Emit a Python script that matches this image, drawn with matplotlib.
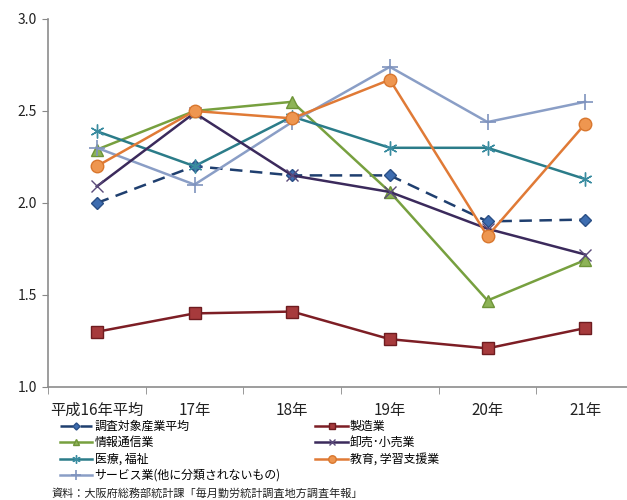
import matplotlib
matplotlib.use("Agg")
import matplotlib.pyplot as plt
from matplotlib.ticker import FixedLocator, NullFormatter

plt.rcParams['font.family'] = ['Noto Sans CJK JP', 'DejaVu Sans']

categories = ["平成16年平均", "17年", "18年", "19年", "20年", "21年"]

avg_all = [2.00, 2.20, 2.15, 2.15, 1.90, 1.91]
manufacturing = [1.30, 1.40, 1.41, 1.26, 1.21, 1.32]
info_comm = [2.29, 2.50, 2.55, 2.06, 1.47, 1.69]
wholesale_retail = [2.09, 2.49, 2.15, 2.06, 1.86, 1.72]
medical_welfare = [2.39, 2.20, 2.47, 2.30, 2.30, 2.13]
education = [2.20, 2.50, 2.46, 2.67, 1.82, 2.43]
services = [2.30, 2.10, 2.44, 2.74, 2.44, 2.55]

y_ticks = [1.0, 1.5, 2.0, 2.5, 3.0]
source_note = "資料：大阪府総務部統計課「毎月勤労統計調査地方調査年報」"

fig = plt.figure(figsize=(6.27, 5.0), dpi=100)
ax = fig.add_axes([48 / 627, 113 / 500, 586 / 627, 368 / 500])

x = list(range(len(categories)))
lw = 1.8

h_avg, = ax.plot(x, avg_all, color="#1F3F6F", linestyle=(0, (5, 3)), lw=lw,
                 marker="D", ms=6, mfc="#3E6DB0", mec="#2A4F86",
                 label="調査対象産業平均")
h_info, = ax.plot(x, info_comm, color="#77A03F", lw=lw,
                  marker="^", ms=8, mfc="#8DB356", mec="#6E9438",
                  label="情報通信業")
h_med, = ax.plot(x, medical_welfare, color="#2B7C89", lw=lw,
                 marker=(6, 2, 0), ms=10, mec="#3A8CA0", mew=1.0,
                 label="医療, 福祉")
h_svc, = ax.plot(x, services, color="#8A9EC6", lw=lw,
                 marker="+", ms=11, mec="#7F93BE", mew=1.2,
                 label="サービス業(他に分類されないもの)")
h_mfg, = ax.plot(x, manufacturing, color="#7D1E25", lw=lw,
                 marker="s", ms=8, mfc="#A63A3C", mec="#6E1C20",
                 label="製造業")
h_whl, = ax.plot(x, wholesale_retail, color="#3B2A5C", lw=lw,
                 marker="x", ms=8, mec="#5A4A7A", mew=1.0,
                 label="卸売･小売業")
h_edu, = ax.plot(x, education, color="#E07A36", lw=lw,
                 marker="o", ms=9, mfc="#EE9650", mec="#D9772E",
                 label="教育, 学習支援業")

ax.set_xlim(-0.5, len(categories) - 0.5)
ax.set_ylim(1.0, 3.0)
ax.set_yticks(y_ticks)
ax.set_yticklabels([f"{v:.1f}" for v in y_ticks])

ax.set_xticks(x)
ax.set_xticklabels(categories)
ax.xaxis.set_minor_locator(FixedLocator([i + 0.5 for i in range(-1, len(categories))]))
ax.xaxis.set_minor_formatter(NullFormatter())
ax.tick_params(axis="x", which="major", length=0, pad=11, labelsize=11, colors="#222222")
ax.tick_params(axis="x", which="minor", length=5, direction="out", color="#888888")
ax.tick_params(axis="y", length=4, direction="out", color="#888888", labelsize=10,
               labelcolor="#222222", pad=4)

for side in ("top", "right"):
    ax.spines[side].set_visible(False)
for side in ("left", "bottom"):
    ax.spines[side].set_color("#8C8C8C")
    ax.spines[side].set_linewidth(1.2)

handles = [h_avg, h_info, h_med, h_svc, h_mfg, h_whl, h_edu]
fig.legend(handles=handles, labels=[h.get_label() for h in handles],
           loc="upper left", bbox_to_anchor=(60 / 627, 1 - 420 / 500),
           ncol=2, frameon=False, fontsize=8.6, handlelength=2.7,
           handletextpad=0.2, labelspacing=0.28, columnspacing=2.9,
           borderpad=0.0, borderaxespad=0.0, markerscale=0.6)

fig.text(52 / 627, 1 - 494 / 500, source_note, fontsize=8, va="center",
         ha="left", color="#222222")

fig.savefig("out.png", dpi=100)
